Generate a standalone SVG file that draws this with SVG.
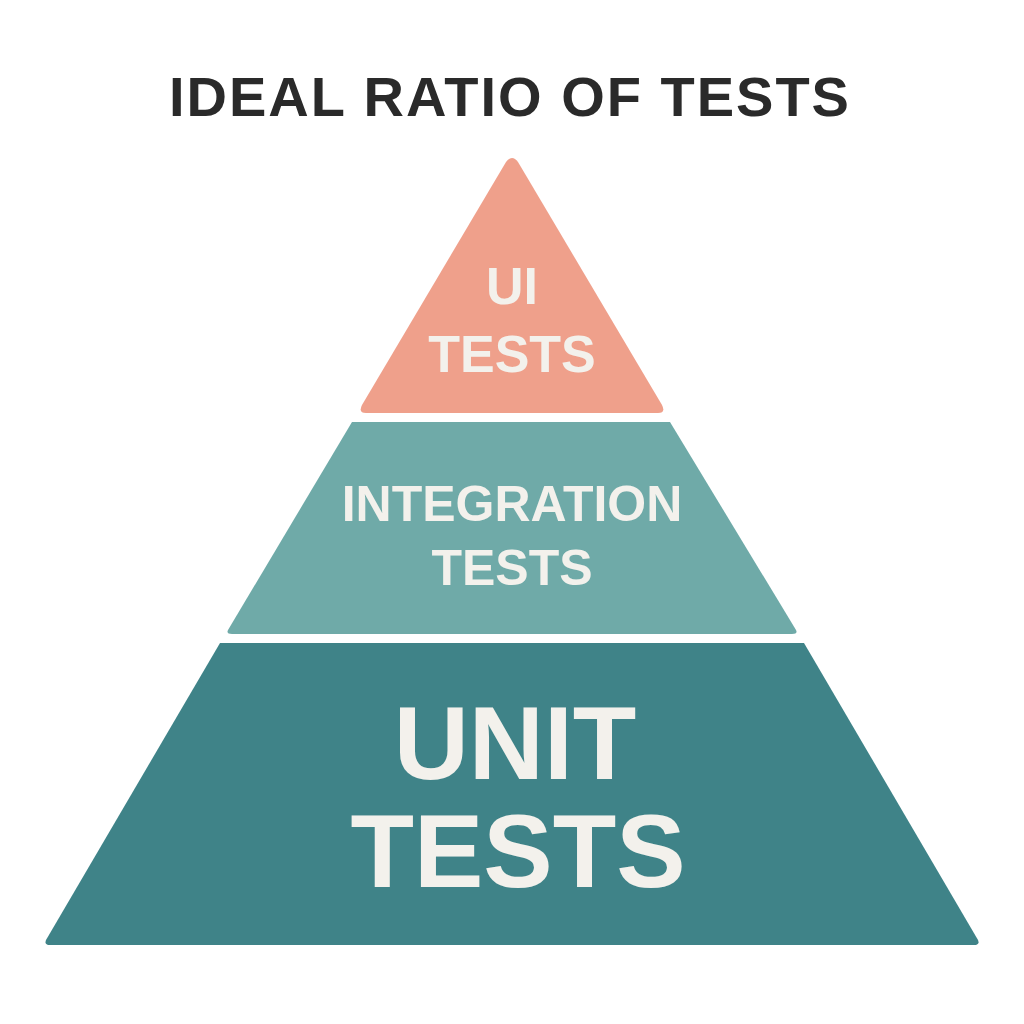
<svg xmlns="http://www.w3.org/2000/svg" width="1024" height="1024" viewBox="0 0 1024 1024">
<style>
.t{font-family:"Liberation Sans",Arial,sans-serif;font-weight:bold;fill:#F3F1EC;text-anchor:middle}
</style>
<rect width="1024" height="1024" fill="#FFFFFF"/>
<text x="510" y="116" font-family="Liberation Sans,Arial,sans-serif" font-weight="bold" font-size="56" fill="#2A2A2A" text-anchor="middle" letter-spacing="2">IDEAL RATIO OF TESTS</text>
<g id="ui">
<path d="M506,162 Q512,154 518,162 L662,405 Q666,413 658,413 L366,413 Q358,413 362,405 Z" fill="#EFA08B"/>
<text class="t" x="512" y="304" font-size="52">UI</text>
<text class="t" x="512" y="372" font-size="52">TESTS</text>
</g>
<g id="integration">
<path d="M352,422 L670,422 L796,630 Q798,634 792,634 L232,634 Q226,634 228,630 Z" fill="#6FAAA8"/>
<text class="t" x="512" y="521" font-size="50">INTEGRATION</text>
<text class="t" x="512" y="585" font-size="50">TESTS</text>
</g>
<g id="unit">
<path d="M220,643 L804,643 L978,940 Q980,945 974,945 L50,945 Q44,945 46,940 Z" fill="#3F8388"/>
<text class="t" x="515" y="779" font-size="104">UNIT</text>
<text class="t" x="518" y="887" font-size="104">TESTS</text>
</g>
<g id="connectors"/>
</svg>
